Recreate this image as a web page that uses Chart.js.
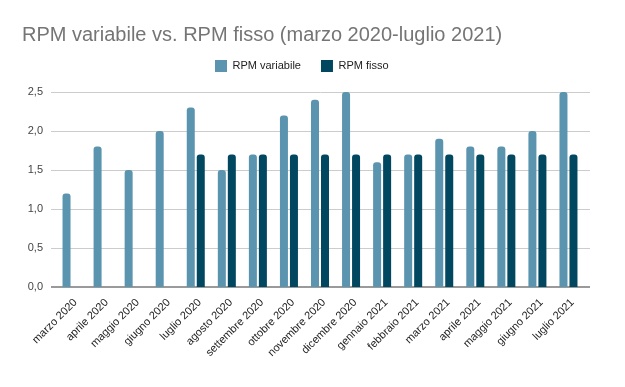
<!DOCTYPE html>
<html>
<head>
<meta charset="utf-8">
<script src="https://cdn.jsdelivr.net/npm/chart.js@4"></script>
<style>
  html, body { margin: 0; padding: 0; background: #fff; }
  #wrap { width: 625px; height: 387px; }
</style>
</head>
<body>
<div id="wrap"><canvas id="rpm-chart"></canvas></div>
<script>
// RPM variabile vs RPM fisso
const mesi = ['marzo 2020', 'aprile 2020', 'maggio 2020', 'giugno 2020', 'luglio 2020', 'agosto 2020',
    'settembre 2020', 'ottobre 2020', 'novembre 2020', 'dicembre 2020', 'gennaio 2021', 'febbraio 2021',
    'marzo 2021', 'aprile 2021', 'maggio 2021', 'giugno 2021', 'luglio 2021'];
const rpmVariabile = [1.2, 1.8, 1.5, 2.0, 2.3, 1.5, 1.7, 2.2, 2.4, 2.5, 1.6, 1.7, 1.9, 1.8, 1.8, 2.0, 2.5];
const rpmFisso = [null, null, null, null, 1.7, 1.7, 1.7, 1.7, 1.7, 1.7, 1.7, 1.7, 1.7, 1.7, 1.7, 1.7, 1.7];
const yTicks = [0, 0.5, 1.0, 1.5, 2.0, 2.5];

const FONT = 'Arial, "Liberation Sans", sans-serif';
const LEGEND_PAD = 20;

// sposta la legenda dove sta nell'originale
const legendShift = {
    id: 'legendShift',
    afterLayout(chart) {
        const lg = chart.legend;
        if (!lg) return;
        const w = lg.right - lg.left;
        const h = lg.bottom - lg.top;
        lg.left = 215 - LEGEND_PAD;
        lg.right = lg.left + w;
        lg.top = 66 - LEGEND_PAD - 6;
        lg.bottom = lg.top + h;
    }
};

// griglia orizzontale un po' più larga dell'area dati, come nell'originale
const wideGrid = {
    id: 'wideGrid',
    beforeDatasetsDraw(chart) {
        const { ctx, chartArea, scales } = chart;
        const x0 = chartArea.left - 5;
        const x1 = chartArea.right + 6;
        ctx.save();
        yTicks.forEach(v => {
            const y = Math.round(scales.y.getPixelForValue(v)) + 0.5;
            ctx.strokeStyle = v === 0 ? '#9a9a9a' : '#cccccc';
            ctx.lineWidth = v === 0 ? 2 : 1;
            ctx.beginPath();
            ctx.moveTo(x0, v === 0 ? y - 0.5 : y);
            ctx.lineTo(x1, v === 0 ? y - 0.5 : y);
            ctx.stroke();
        });
        ctx.restore();
    }
};

const ctx = document.getElementById('rpm-chart');
new Chart(ctx, {
    type: 'bar',
    data: {
        labels: mesi,
        datasets: [
            {
                label: 'RPM variabile',
                data: rpmVariabile,
                backgroundColor: '#5b94af',
                borderRadius: { topLeft: 3, topRight: 3 },
                borderSkipped: 'start',
                barPercentage: 0.8,
                categoryPercentage: 0.644
            },
            {
                label: 'RPM fisso',
                data: rpmFisso,
                backgroundColor: '#00475f',
                borderRadius: { topLeft: 3, topRight: 3 },
                borderSkipped: 'start',
                barPercentage: 0.8,
                categoryPercentage: 0.644
            }
        ]
    },
    options: {
        responsive: true,
        maintainAspectRatio: false,
        animation: false,
        layout: { padding: { left: 22, right: 41, top: 0, bottom: 0 } },
        plugins: {
            title: {
                display: true,
                text: 'RPM variabile vs. RPM fisso (marzo 2020-luglio 2021)',
                align: 'start',
                color: '#757575',
                font: { family: FONT, size: 20, weight: 'normal' },
                padding: { top: 23, bottom: 3 }
            },
            legend: {
                display: true,
                position: 'top',
                align: 'start',
                labels: {
                    color: '#222',
                    font: { family: FONT, size: 11 },
                    boxWidth: 12,
                    boxHeight: 12,
                    padding: LEGEND_PAD
                }
            },
            tooltip: { enabled: false }
        },
        scales: {
            x: {
                grid: { display: false },
                border: { display: false },
                ticks: {
                    color: '#222',
                    font: { family: FONT, size: 11 },
                    minRotation: 45,
                    maxRotation: 45,
                    autoSkip: false,
                    labelOffset: 4,
                    padding: 1
                },
                afterFit: function (scale) { scale.height = 100; }
            },
            y: {
                min: 0,
                max: 2.5,
                afterBuildTicks: function (scale) {
                    scale.ticks = yTicks.map(v => ({ value: v }));
                },
                grid: { display: false, drawTicks: false },
                border: { display: false },
                ticks: {
                    color: '#444',
                    padding: 13,
                    font: { family: FONT, size: 11 },
                    callback: function (value) {
                        return value.toLocaleString('it-IT', { minimumFractionDigits: 1, maximumFractionDigits: 1 });
                    }
                },
                afterFit: function (scale) { scale.width = 34; }
            }
        }
    },
    plugins: [legendShift, wideGrid]
});
</script>
</body>
</html>
